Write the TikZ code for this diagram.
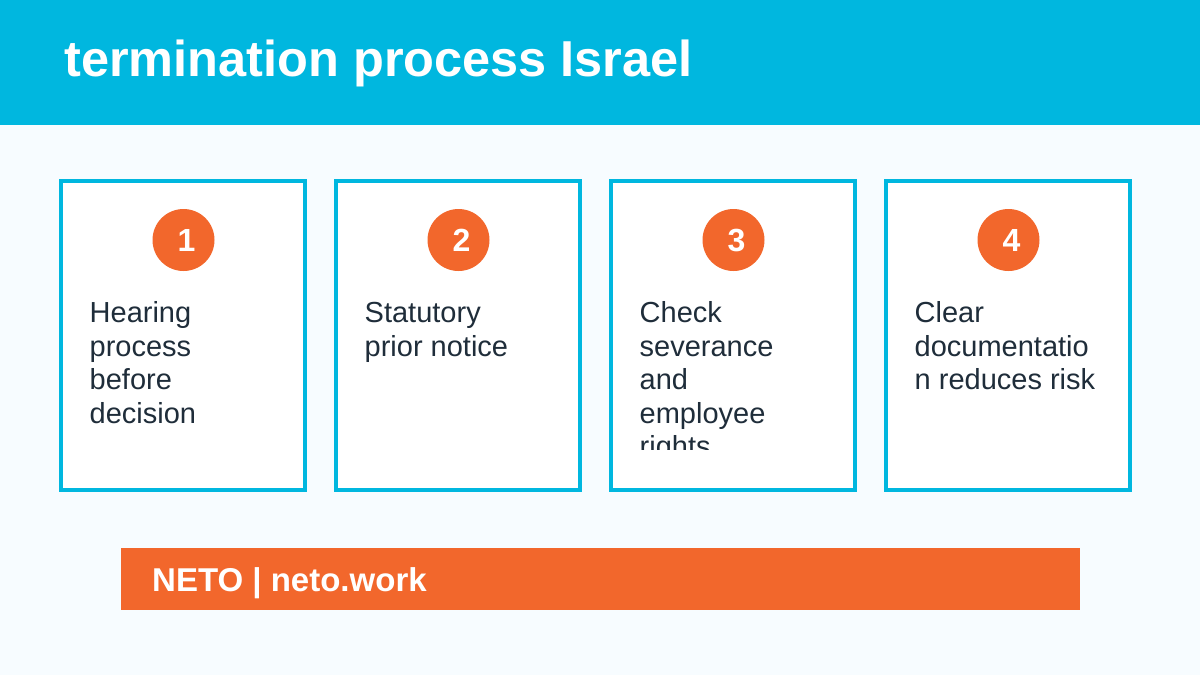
\documentclass[tikz,border=0pt]{standalone}
\usepackage{fontspec}
\setmainfont{Liberation Sans}
\definecolor{pagebg}{HTML}{F7FCFF}
\definecolor{cyanbar}{HTML}{00B7DF}
\definecolor{orangebar}{HTML}{F2672C}
\definecolor{inkdark}{HTML}{1F2D3A}
\tikzset{
  px/.style={x=1pt,y=-1pt},
  card/.style={draw=cyanbar,line width=4pt,fill=white,minimum width=243.8pt,minimum height=309pt,anchor=north west,inner sep=0pt},
  badge/.style={circle,fill=orangebar,minimum size=62pt,inner sep=0pt},
  digit/.style={inner sep=0pt,text=white,font=\fontsize{32}{32}\selectfont\bfseries},
  body/.style={anchor=north west,inner sep=0pt,align=left,text=inkdark,font=\fontsize{29}{33.6}\selectfont},
}
\newcommand{\cardunit}[3]{%
  \node[card] (card#1) at (#2-1.5,179) {};
  \node[badge] (badge#1) at (#2+123,240) {};
  \node[digit] (digit#1) at (#2+126,240.5) {#1};
  \begin{scope}
    \clip (#2+29,292) rectangle (#2+215,449);
    \node[body] (text#1) at (#2+29,298.2) {\rule{0pt}{24pt}#3};
  \end{scope}
}
\begin{document}
\begin{tikzpicture}[px]
\useasboundingbox (0,0) rectangle (1200,675);
\fill[pagebg] (0,0) rectangle (1200,675);
\fill[cyanbar] (0,0) rectangle (1200,125);
\node[anchor=base west,inner sep=0pt,text=white,font=\fontsize{50.5}{50.5}\selectfont\bfseries] (title) at (64,76.6) {termination process Israel};
\cardunit{1}{60.5}{Hearing\\process\\before\\decision}
\cardunit{2}{335.5}{Statutory\\prior notice}
\cardunit{3}{610.5}{Check\\severance\\and\\employee\\rights}
\cardunit{4}{885.5}{Clear\\documentatio\\n reduces risk}
\fill[orangebar] (121,548) rectangle (1080,610);
\node[anchor=base west,inner sep=0pt,text=white,font=\fontsize{33}{33}\selectfont\bfseries] (footer) at (152,591) {NETO | neto.work};
\end{tikzpicture}
\end{document}
